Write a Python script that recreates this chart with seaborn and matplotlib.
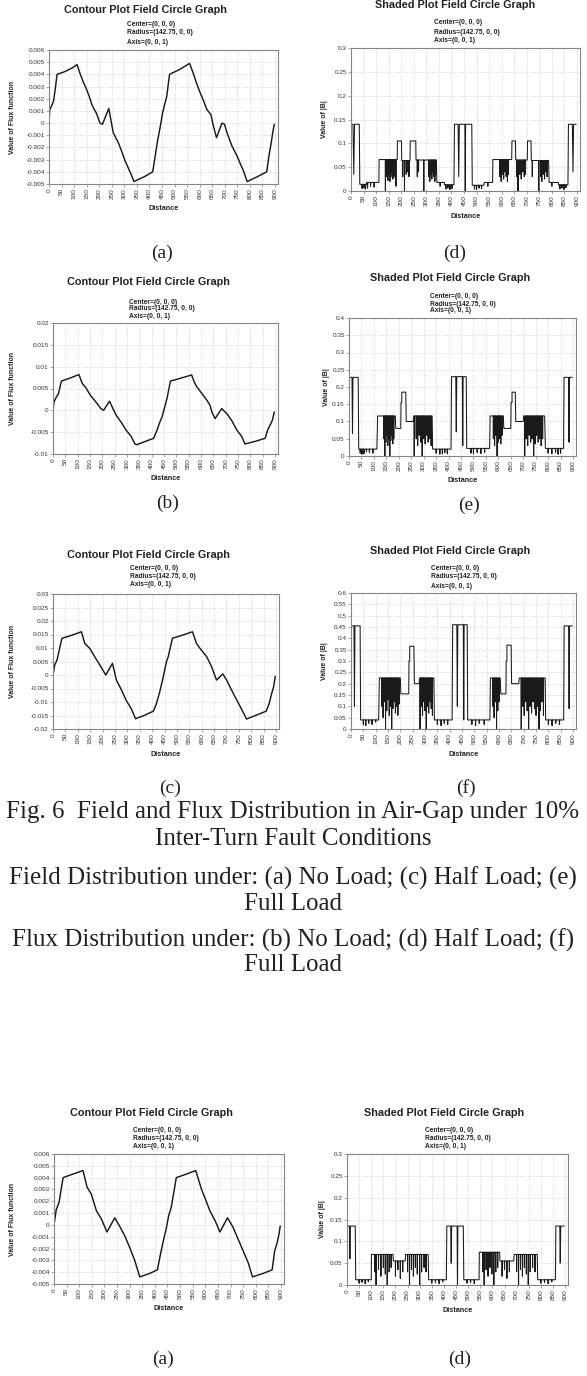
import matplotlib
matplotlib.use("Agg")
import matplotlib.pyplot as plt
import numpy as np
import pandas as pd
import seaborn as sns

# ---------------- data ----------------
distance_ticks = list(range(0, 901, 50))

yt_flux_a = [-0.005, -0.004, -0.003, -0.002, -0.001, 0, 0.001, 0.002, 0.003, 0.004, 0.005, 0.006]
yt_flux_b = [-0.01, -0.005, 0, 0.005, 0.01, 0.015, 0.02]
yt_flux_c = [-0.02, -0.015, -0.01, -0.005, 0, 0.005, 0.01, 0.015, 0.02, 0.025, 0.03]
yt_b_d = [0, 0.05, 0.1, 0.15, 0.2, 0.25, 0.3]
yt_b_e = [0, 0.05, 0.1, 0.15, 0.2, 0.25, 0.3, 0.35, 0.4]
yt_b_f = [0, 0.05, 0.1, 0.15, 0.2, 0.25, 0.3, 0.35, 0.4, 0.45, 0.5, 0.55, 0.6]

# Flux function curves (Distance, value)
flux1_x = [0, 3, 10, 18, 25, 32, 60, 90, 112, 123, 136, 147, 160, 173, 189, 203, 213, 238, 256, 276, 289, 303,
           316, 329, 338, 380, 413, 423, 432, 443, 452, 459, 469, 480, 520, 560, 576, 587, 600, 616, 629, 645,
           653, 667, 689, 699, 709, 729, 749, 763, 776, 789, 830, 867, 876, 885, 891, 897]
flux1_y = [0, 0.0011, 0.0014, 0.0018, 0.0028, 0.004, 0.0042, 0.0045, 0.0048, 0.0041, 0.0034, 0.0029, 0.0022,
           0.0014, 0.0008, 0.0, -0.0001, 0.0012, -0.0008, -0.0016, -0.0023, -0.0031, -0.0037, -0.0043, -0.0048,
           -0.0044, -0.004, -0.0027, -0.0015, -0.0003, 0.0008, 0.0014, 0.0022, 0.004, 0.0044, 0.0049, 0.004,
           0.0033, 0.0026, 0.0018, 0.0011, 0.0007, -0.0001, -0.0012, 0.0, -0.0001, -0.0008, -0.0019, -0.0027,
           -0.0034, -0.004, -0.0048, -0.0044, -0.004, -0.0027, -0.0016, -0.0008, -0.0001]

flux2_x = [0, 4, 13, 22, 34, 70, 105, 119, 132, 152, 174, 194, 205, 229, 243, 256, 276, 296, 317, 331, 338, 375,
           408, 422, 431, 442, 453, 462, 476, 520, 562, 573, 584, 604, 624, 637, 644, 657, 684, 705, 724, 745,
           765, 778, 820, 860, 870, 880, 889, 897]
flux2_y = [0, 0.0019, 0.003, 0.0038, 0.0067, 0.0074, 0.0082, 0.0061, 0.0053, 0.0034, 0.0019, 0.0004, 0.0,
           0.0021, 0.0004, -0.0011, -0.0027, -0.0045, -0.006, -0.0076, -0.0079, -0.0071, -0.0064, -0.0045,
           -0.003, -0.0015, 0.0008, 0.0027, 0.0067, 0.0074, 0.0081, 0.0064, 0.0053, 0.0038, 0.0023, 0.0011,
           -0.0004, -0.0019, 0.0004, -0.0008, -0.0023, -0.0045, -0.006, -0.0077, -0.0071, -0.0064, -0.0045,
           -0.0034, -0.0023, -0.0004]

flux3_x = [0, 7, 16, 36, 75, 115, 128, 148, 168, 189, 213, 240, 256, 276, 296, 316, 333, 370, 405, 417, 430,
           442, 458, 465, 482, 520, 563, 579, 593, 620, 640, 660, 685, 701, 720, 740, 760, 781, 820, 860, 872,
           882, 890, 897]
flux3_y = [0, 0.0037, 0.0055, 0.0136, 0.0147, 0.016, 0.0117, 0.0099, 0.0068, 0.0037, 0.0, 0.0043, -0.0019,
           -0.0055, -0.0095, -0.0125, -0.0162, -0.0149, -0.0134, -0.0107, -0.0065, -0.0019, 0.005, 0.0068,
           0.0136, 0.0147, 0.016, 0.0117, 0.0099, 0.0068, 0.0031, -0.0019, 0.0004, -0.0019, -0.0055, -0.009,
           -0.0125, -0.0163, -0.0149, -0.0134, -0.0107, -0.007, -0.0045, -0.0005]

flux4_x = [0, 9, 20, 36, 75, 115, 131, 148, 168, 188, 210, 241, 260, 280, 300, 320, 340, 380, 410, 422, 432,
           445, 455, 465, 485, 525, 562, 585, 600, 618, 640, 658, 688, 710, 730, 750, 770, 787, 830, 865, 875,
           885, 892, 897]
flux4_y = [0, 0.0013, 0.0019, 0.004, 0.0043, 0.0046, 0.0032, 0.0026, 0.0012, 0.0005, -0.0006, 0.0006,
           -0.0001, -0.0009, -0.0019, -0.003, -0.0044, -0.0041, -0.0038, -0.0025, -0.0015, -0.0003, 0.0008,
           0.0015, 0.004, 0.0043, 0.0046, 0.003, 0.0022, 0.0012, 0.0003, -0.0006, 0.0006, -0.0002, -0.0012,
           -0.0022, -0.0032, -0.0044, -0.0041, -0.0038, -0.0022, -0.0015, -0.0008, -0.0001]

# |B| curves: plateaus (start, end, level) and dips (position, bottom, half width)
b1_levels = [(0, 33, 0.14), (35, 62, 0.014), (62, 111, 0.018), (112, 184, 0.066), (185, 201, 0.105),
             (202, 235, 0.064), (236, 258, 0.105), (259, 340, 0.065), (342, 372, 0.018), (372, 410, 0.013),
             (412, 481, 0.14), (483, 530, 0.012), (530, 564, 0.018), (565, 640, 0.066), (641, 655, 0.105),
             (656, 702, 0.065), (703, 717, 0.105), (718, 787, 0.064), (789, 826, 0.018), (826, 864, 0.013),
             (866, 897, 0.14)]
b1_dips = [(11, 0.035, 3), (44, 0.005, .8), (52, 0.006, .8), (58, 0.004, .8), (66, 0.006, .8), (78, 0.01, .8),
           (92, 0.008, .8), (137, 0.0, .6), (143, 0.03, .6), (147, 0.022, .6), (151, 0.035, .6),
           (155, 0.02, .6), (159, 0.03, .6), (163, 0.04, .6), (167, 0.025, .6), (171, 0.035, .6),
           (175, 0.03, .6), (179, 0.01, .6), (206, 0.03, .6), (213, 0.0, .6), (220, 0.035, .6), (226, 0.04, .6),
           (231, 0.03, .6), (264, 0.03, .6), (269, 0.04, .6), (290, 0.0, .6), (310, 0.03, .6), (314, 0.02, .6),
           (318, 0.035, .6), (322, 0.025, .6), (326, 0.04, .6), (330, 0.03, .6), (334, 0.02, .6),
           (337, 0.035, .6), (355, 0.01, .8), (378, 0.004, .8), (386, 0.006, .8), (394, 0.003, .8),
           (402, 0.005, .8), (429, 0.03, 2.5), (455, 0.0, 1.5), (492, 0.004, .8), (500, 0.003, .8),
           (510, 0.006, .8), (520, 0.005, .8), (545, 0.01, .8), (593, 0.03, .6), (598, 0.02, .6),
           (603, 0.035, .6), (608, 0.025, .6), (613, 0.04, .6), (618, 0.03, .6), (623, 0.02, .6),
           (627, 0.035, .6), (660, 0.03, .6), (665, 0.0, .6), (672, 0.035, .6), (678, 0.025, .6),
           (684, 0.04, .6), (690, 0.03, .6), (695, 0.035, .6), (722, 0.03, .6), (748, 0.0, .6), (755, 0.03, .6),
           (760, 0.02, .6), (766, 0.035, .6), (771, 0.025, .6), (776, 0.04, .6), (781, 0.03, .6),
           (800, 0.01, .8), (832, 0.004, .8), (840, 0.006, .8), (848, 0.003, .8), (856, 0.007, .8),
           (884, 0.04, 2.5)]

b2_levels = [(0, 37, 0.228), (39, 112, 0.02), (115, 186, 0.116), (188, 208, 0.08), (209, 212, 0.155),
             (212, 228, 0.185), (230, 258, 0.1), (260, 334, 0.116), (336, 410, 0.02), (412, 471, 0.23),
             (473, 565, 0.022), (567, 620, 0.116), (622, 650, 0.08), (651, 655, 0.155), (655, 668, 0.185),
             (670, 700, 0.1), (702, 786, 0.116), (789, 862, 0.022), (864, 897, 0.228)]
b2_dips = [(14, 0.065, 2), (45, 0.008, .8), (52, 0.005, .8), (60, 0.006, .8), (70, 0.012, .8), (82, 0.01, .8),
           (96, 0.008, .8), (140, 0.05, .6), (144, 0.0, .6), (148, 0.04, .6), (152, 0.06, .6), (156, 0.03, .6),
           (160, 0.05, .6), (164, 0.0, .6), (168, 0.045, .6), (172, 0.06, .6), (176, 0.035, .6), (180, 0.05, .6),
           (262, 0.0, .6), (270, 0.05, .6), (276, 0.03, .6), (282, 0.06, .6), (288, 0.04, .6), (294, 0.0, .6),
           (300, 0.05, .6), (306, 0.035, .6), (312, 0.06, .6), (318, 0.04, .6), (324, 0.05, .6), (330, 0.03, .6),
           (350, 0.008, .8), (365, 0.005, .8), (375, 0.006, .8), (385, 0.01, .8), (395, 0.006, .8),
           (431, 0.07, 2), (457, 0.03, 1.5), (490, 0.008, .8), (500, 0.006, .8), (515, 0.01, .8),
           (530, 0.007, .8), (545, 0.01, .8), (580, 0.05, .6), (585, 0.03, .6), (590, 0.06, .6), (595, 0.0, .6),
           (600, 0.04, .6), (605, 0.05, .6), (610, 0.035, .6), (615, 0.06, .6), (706, 0.0, .6), (712, 0.05, .6),
           (718, 0.03, .6), (724, 0.06, .6), (730, 0.04, .6), (736, 0.05, .6), (742, 0.0, .6), (748, 0.035, .6),
           (754, 0.06, .6), (760, 0.04, .6), (766, 0.05, .6), (772, 0.03, .6), (778, 0.05, .6),
           (800, 0.008, .8), (815, 0.006, .8), (830, 0.01, .8), (840, 0.005, .8), (850, 0.008, .8),
           (884, 0.04, 2)]

b3_levels = [(0, 37, 0.455), (39, 112, 0.04), (115, 200, 0.225), (202, 234, 0.155), (235, 238, 0.3),
             (238, 255, 0.365), (257, 276, 0.2), (278, 336, 0.225), (338, 410, 0.04), (412, 471, 0.46),
             (473, 563, 0.04), (565, 605, 0.225), (607, 628, 0.155), (629, 632, 0.3), (632, 649, 0.37),
             (651, 680, 0.2), (682, 787, 0.225), (789, 862, 0.04), (864, 897, 0.455)]
b3_dips = [(14, 0.1, 2), (50, 0.02, .8), (60, 0.015, .8), (72, 0.025, .8), (85, 0.02, .8), (100, 0.03, .8),
           (125, 0.1, .6), (130, 0.05, .6), (135, 0.12, .6), (140, 0.0, .6), (145, 0.08, .6), (150, 0.13, .6),
           (155, 0.06, .6), (160, 0.1, .6), (165, 0.0, .6), (170, 0.09, .6), (175, 0.12, .6), (180, 0.07, .6),
           (185, 0.1, .6), (190, 0.06, .6), (195, 0.11, .6), (280, 0.0, .6), (285, 0.1, .6), (290, 0.06, .6),
           (295, 0.12, .6), (300, 0.08, .6), (305, 0.0, .6), (310, 0.1, .6), (315, 0.07, .6), (320, 0.12, .6),
           (325, 0.09, .6), (330, 0.06, .6), (350, 0.02, .8), (365, 0.015, .8), (378, 0.025, .8),
           (392, 0.02, .8), (431, 0.1, 2), (457, 0.04, 1.5), (490, 0.02, .8), (505, 0.015, .8),
           (520, 0.025, .8), (540, 0.02, .8), (575, 0.1, .6), (580, 0.05, .6), (585, 0.12, .6), (590, 0.0, .6),
           (595, 0.08, .6), (600, 0.12, .6), (690, 0.0, .6), (696, 0.1, .6), (702, 0.06, .6), (708, 0.12, .6),
           (714, 0.08, .6), (720, 0.0, .6), (726, 0.1, .6), (732, 0.07, .6), (738, 0.12, .6), (744, 0.09, .6),
           (750, 0.06, .6), (756, 0.1, .6), (762, 0.0, .6), (768, 0.08, .6), (774, 0.12, .6), (780, 0.06, .6),
           (800, 0.02, .8), (815, 0.015, .8), (830, 0.025, .8), (845, 0.02, .8), (884, 0.09, 2)]

b4_levels = [(0, 34, 0.135), (36, 100, 0.012), (101, 190, 0.07), (191, 240, 0.055), (242, 335, 0.07),
             (337, 410, 0.012), (412, 480, 0.135), (482, 545, 0.012), (546, 630, 0.075), (631, 688, 0.055),
             (690, 785, 0.07), (787, 860, 0.012), (862, 897, 0.135)]
b4_dips = [(12, 0.06, 2), (50, 0.004, .8), (62, 0.006, .8), (75, 0.003, .8), (88, 0.007, .8), (115, 0.03, .6),
           (120, 0.0, .6), (130, 0.035, .6), (140, 0.02, .6), (150, 0.04, .6), (158, 0.025, .6), (166, 0.0, .6),
           (174, 0.03, .6), (182, 0.04, .6), (200, 0.02, .6), (210, 0.035, .6), (220, 0.015, .6),
           (230, 0.03, .6), (250, 0.03, .6), (258, 0.0, .6), (266, 0.035, .6), (274, 0.02, .6), (282, 0.04, .6),
           (290, 0.025, .6), (300, 0.0, .6), (308, 0.03, .6), (318, 0.04, .6), (326, 0.03, .6),
           (350, 0.004, .8), (365, 0.006, .8), (380, 0.003, .8), (395, 0.007, .8), (430, 0.05, 2),
           (456, 0.0, 1.5), (495, 0.004, .8), (510, 0.006, .8), (525, 0.003, .8), (560, 0.03, .6),
           (566, 0.0, .6), (574, 0.035, .6), (582, 0.02, .6), (590, 0.04, .6), (598, 0.025, .6), (606, 0.0, .6),
           (614, 0.03, .6), (622, 0.04, .6), (640, 0.02, .6), (650, 0.035, .6), (660, 0.015, .6),
           (670, 0.03, .6), (700, 0.03, .6), (708, 0.0, .6), (716, 0.035, .6), (724, 0.02, .6), (732, 0.04, .6),
           (740, 0.025, .6), (748, 0.0, .6), (756, 0.03, .6), (766, 0.04, .6), (776, 0.03, .6),
           (800, 0.004, .8), (815, 0.006, .8), (830, 0.003, .8), (845, 0.007, .8), (880, 0.05, 2)]

caption_lines = ["Fig. 6  Field and Flux Distribution in Air-Gap under 10%",
                 "Inter-Turn Fault Conditions",
                 "Field Distribution under: (a) No Load; (c) Half Load; (e)",
                 "Full Load",
                 "Flux Distribution under: (b) No Load; (d) Half Load; (f)",
                 "Full Load"]

# ---------------- layout ----------------
W, H = 587, 1376
sns.set_theme(style="white")
plt.rcParams['font.family'] = ['Liberation Sans', 'DejaVu Sans']

fig = plt.figure(figsize=(W / 100, H / 100), dpi=100)
fig.patch.set_facecolor('white')


def fx(x):
    return x / W


def fy(y):
    return 1 - y / H


def block_path(levels, dips):
    xs, ys = [], []
    for (x0, x1, lv) in levels:
        xs.append(x0); ys.append(lv)
        for (sx, sb, hw) in sorted(d for d in dips if x0 < d[0] < x1):
            xs += [sx - hw, sx, sx + hw]
            ys += [lv, sb, lv]
        xs.append(x1); ys.append(lv)
    return pd.DataFrame({"Distance": xs, "B": ys})


panels = [
    ("flux", (49, 50, 278, 184), (-0.005, 0.006), yt_flux_a, (flux1_x, flux1_y), (145, 10), (127, 25, 33, 42), 13, ("(a)", 162, 253)),
    ("b", (351, 48, 580, 191), (0, 0.3), yt_b_d, (b1_levels, b1_dips), (455, 5), (434, 23, 32, 41), 324, ("(d)", 455, 253)),
    ("flux", (53, 323, 278, 454), (-0.01, 0.02), yt_flux_b, (flux2_x, flux2_y), (148, 282), (129, 302, 309, 316), 13, ("(b)", 168, 503)),
    ("b", (349, 318, 576, 456), (0, 0.4), yt_b_e, (b2_levels, b2_dips), (450, 278), (430, 297, 304, 311), 327, ("(e)", 469, 505)),
    ("flux", (53, 594, 279, 729), (-0.02, 0.03), yt_flux_c, (flux3_x, flux3_y), (148, 555), (130, 569, 577, 585), 13, ("(c)", 170, 788)),
    ("b", (351, 593, 576, 729), (0, 0.6), yt_b_f, (b3_levels, b3_dips), (450, 551), (431, 568, 577, 586), 325, ("(f)", 466, 788)),
    ("flux", (54, 1154, 284, 1284), (-0.005, 0.006), yt_flux_a, (flux4_x, flux4_y), (151, 1113), (133, 1130, 1138, 1146), 13, ("(a)", 163, 1359)),
    ("b", (347, 1154, 568, 1285), (0, 0.3), yt_b_d, (b4_levels, b4_dips), (444, 1113), (425, 1130, 1138, 1146), 322, ("(d)", 460, 1359)),
]

tick_col = '#333333'
frame_col = '#858585'
txt_col = '#222222'
serif = ['Liberation Serif', 'DejaVu Serif']

for kind, (l, t, r, b), ylim, yticks, data, (tcx, tcy), (sx, s1, s2, s3), ylx, (lett, lx, ly) in panels:
    ax = fig.add_axes([fx(l), fy(b), (r - l) / W, (b - t) / H])
    if kind == "flux":
        df = pd.DataFrame({"Distance": data[0], "B": data[1]})
        sns.lineplot(data=df, x="Distance", y="B", ax=ax, estimator=None, sort=False,
                     color='#1a1a1a', linewidth=1.05)
        title = "Contour Plot Field Circle Graph"
        ylab = "Value of Flux function"
    else:
        df = block_path(*data)
        sns.lineplot(data=df, x="Distance", y="B", ax=ax, estimator=None, sort=False,
                     color='#1a1a1a', linewidth=0.75)
        title = "Shaded Plot Field Circle Graph"
        ylab = "Value of |B|"
    ax.set_xlim(0, 912)
    ax.set_ylim(*ylim)
    ax.set_xticks(distance_ticks)
    ax.set_xticklabels([str(v) for v in distance_ticks], rotation=90, fontsize=4.6, color=tick_col)
    ax.set_yticks(yticks)
    ax.set_yticklabels([f"{v:g}" for v in yticks], fontsize=4.6, color=tick_col)
    ax.grid(True, color='#cccccc', linestyle=(0, (2, 2)), linewidth=0.5)
    ax.set_axisbelow(True)
    for s in ax.spines.values():
        s.set_visible(True)
        s.set_color(frame_col)
        s.set_linewidth(0.8)
    ax.tick_params(axis='both', which='both', length=2, width=0.5, color=frame_col, pad=1,
                   bottom=True, left=True)
    ax.set_xlabel("")
    ax.set_ylabel("")
    ax.set_facecolor('white')

    fig.text(fx(tcx), fy(tcy), title, ha='center', va='center', fontsize=7.8, fontweight='bold', color=txt_col)
    for yy, s in zip((s1, s2, s3), ("Center=(0, 0, 0)", "Radius=(142.75, 0, 0)", "Axis=(0, 0, 1)")):
        fig.text(fx(sx), fy(yy), s, ha='left', va='center', fontsize=4.8, fontweight='bold', color=txt_col)
    fig.text(fx(ylx), fy((t + b) / 2), ylab, ha='center', va='center', rotation=90, fontsize=5,
             fontweight='bold', color=txt_col)
    fig.text(fx((l + r) / 2), fy(b + 25), "Distance", ha='center', va='center', fontsize=5.2,
             fontweight='bold', color=txt_col)
    fig.text(fx(lx), fy(ly), lett, ha='center', va='center', fontsize=14, family=serif, color=txt_col)

cap_y = [812, 839, 878, 904, 940, 965]
for yy, s in zip(cap_y, caption_lines):
    fig.text(fx(293), fy(yy), s, ha='center', va='center', fontsize=18, family=serif, color=txt_col)

fig.savefig("out.png", dpi=100)
